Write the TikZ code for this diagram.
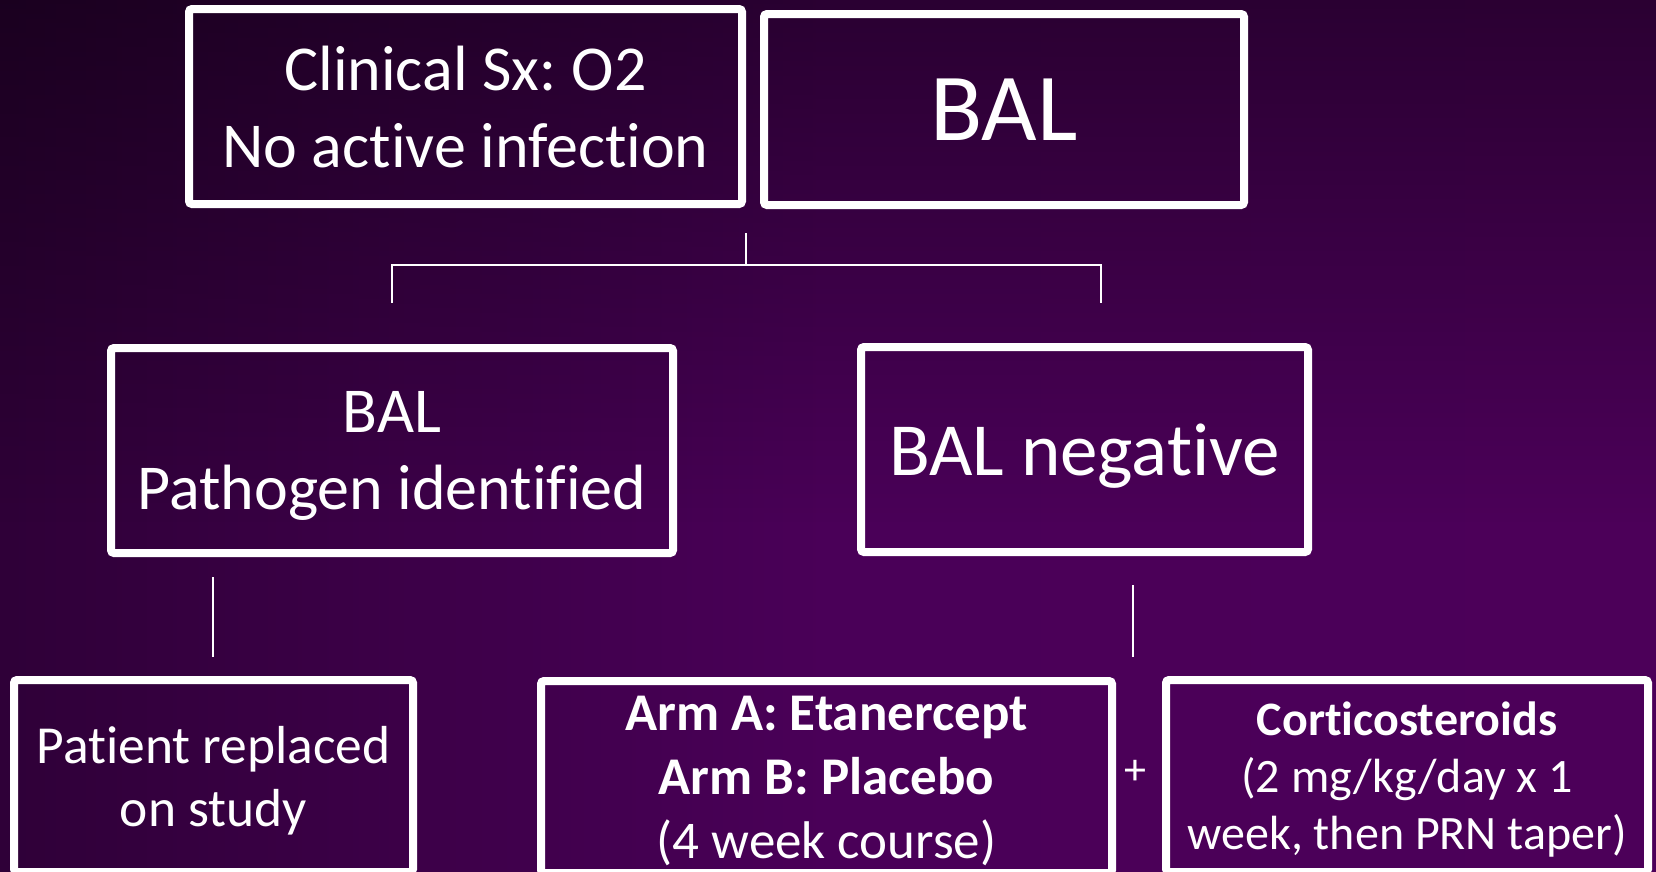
\documentclass[tikz,border=0pt]{standalone}
\usepackage{fontspec}
\setmainfont{Carlito}[Ligatures={NoCommon}]
\usetikzlibrary{fadings}
\definecolor{bgA}{HTML}{120016}
\definecolor{bgB}{HTML}{4A0058}
\definecolor{bgC}{HTML}{4E005A}
\pgfdeclarehorizontalshading{bgshade}{100bp}{color(0bp)=(bgA); color(50bp)=(bgB); color(100bp)=(bgC)}
\tikzfading[name=topdark, top color=transparent!55, bottom color=transparent!100]
\begin{document}
\begin{tikzpicture}[x=1pt,y=-1pt,
  box/.style={draw=white, line width=8pt, rounded corners=3pt, text=white, inner sep=0pt, align=center, text depth=0pt},
  link/.style={draw=white, line width=1.6pt}]
\useasboundingbox (0,0) rectangle (1656,871);
\clip (0,0) rectangle (1656,871);
\shade[shading=bgshade] (-20,-20) rectangle (1676,891);
\fill[black, path fading=topdark] (-20,-20) rectangle (1676,523);

\node[box, minimum width=553pt, minimum height=195pt, font=\fontsize{64}{77}\selectfont] (clin) at (465.5,106.5) {Clinical Sx:\kern-4pt{} O2\\No active infection};
\node[box, minimum width=480pt, minimum height=191pt, font=\fontsize{96}{110}\selectfont] (bal) at (1004,109.5) {BAL};
\node[box, minimum width=562pt, minimum height=205pt, font=\fontsize{64}{77}\selectfont] (pos) at (392,450.5) {BAL\\Pathogen identified};
\node[box, minimum width=447pt, minimum height=205pt, font=\fontsize{75}{95}\selectfont] (neg) at (1084.5,449.5) {BAL negative};
\node[box, minimum width=399pt, minimum height=192pt, font=\fontsize{53.5}{63}\selectfont] (repl) at (213.5,776) {Patient replaced\\on study};
\node[box, minimum width=571pt, minimum height=192pt, font=\fontsize{53}{64}\selectfont] (arm) at (826.5,777) {\textbf{Arm A: Etanercept}\\\textbf{Arm B: Placebo}\\(4 week course)};
\node[box, minimum width=482pt, minimum height=192pt, font=\fontsize{48}{57}\selectfont] (cort) at (1407,776) {\textbf{Corticosteroids}\\(2 mg/kg/day x 1\\week, then PRN taper)};
\node[text=white, inner sep=0pt, font=\fontsize{44}{50}\selectfont] (plus) at (1135,772) {+};

\coordinate (t0) at (746,233);
\coordinate (tj) at (746,265);
\coordinate (tl) at (392,265);
\coordinate (tl2) at (392,303);
\coordinate (tr) at (1101,265);
\coordinate (tr2) at (1101,303);
\draw[link] (t0) -- (tj);
\draw[link] (tl2) -- (tl) -- (tr) -- (tr2);
\coordinate (l1) at (213,577);
\coordinate (l2) at (213,657);
\draw[link] (l1) -- (l2);
\coordinate (r1) at (1133,585);
\coordinate (r2) at (1133,657);
\draw[link] (r1) -- (r2);
\end{tikzpicture}
\end{document}
